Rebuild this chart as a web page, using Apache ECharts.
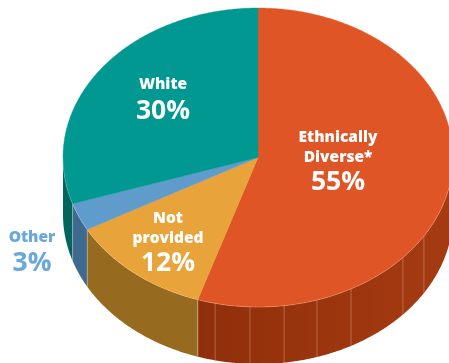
<!DOCTYPE html>
<html>
<head>
<meta charset="utf-8">
<style>html,body{margin:0;padding:0;background:#fff}#chart{width:449px;height:363px}</style>
<script src="https://cdn.jsdelivr.net/npm/echarts@6/dist/echarts.min.js"></script>
</head>
<body>
<div id="chart"></div>
<script>
// Workforce shares, clockwise from twelve o'clock
const categories = ['Ethnically Diverse*', 'Not provided', 'Other', 'White'];
const shares = [55, 12, 3, 30];
const labelLines = [['Ethnically', 'Diverse*'], ['Not', 'provided'], ['Other'], ['White']];

const topColors = ['#e05526', '#e8a33b', '#5f9bcb', '#009890'];
const wallColors = [
  { type: 'linear', x: 0, y: 0, x2: 1, y2: 0, colorStops: [{ offset: 0, color: '#8f2f0a' }, { offset: 1, color: '#a63b12' }] },
  '#966a1f', '#3f6a8f', '#00645f'
];
const labelColors = ['#ffffff', '#ffffff', '#6aa8dc', '#ffffff'];
const labelCentres = [[338, 138], [168, 219], [32, 238], [163, 85]];
const lineGaps = [20, 20, 0, 0];
const valueGaps = [24, 24.5, 25, 26];

// Projected disc geometry
const CX = 258, CY = 157.5, RX = 195, RY = 149.5, DEPTH = 57;
// Panel seams moulded into the front of the rim (degrees clockwise from the top)
const seams = [121.7, 132, 151.5, 162.4, 172.3, 182.35, 192.7];

const FONT = '"Open Sans", "Lato", sans-serif';
const total = shares.reduce((a, b) => a + b, 0);
let running = 0;
const starts = shares.map(v => { const s = running; running += v; return s; });

function rimPoint(deg, drop) {
  const t = deg * Math.PI / 180;
  return [CX + RX * Math.sin(t), CY - RY * Math.cos(t) + drop];
}
function arc(a, b, drop) {
  const pts = [], n = Math.max(2, Math.ceil(Math.abs(b - a) / 0.5));
  for (let i = 0; i <= n; i++) pts.push(rimPoint(a + (b - a) * i / n, drop));
  return pts;
}

function renderSlice(params, api) {
  const i = api.value(0);
  const a = api.value(2) / total * 360;
  const b = a + api.value(1) / total * 360;
  const children = [];

  // Visible wall: the part of the slice on the near half of the disc
  const wa = Math.max(a, 90), wb = Math.min(b, 270);
  if (wb > wa) {
    children.push({
      type: 'polygon',
      shape: { points: arc(wa, wb, 0).concat(arc(wb, wa, DEPTH)) },
      style: { fill: wallColors[i] }
    });
    seams.concat([wa, wb]).filter(d => d >= wa && d <= wb && d > 90 && d < 270).forEach(d => {
      const p = rimPoint(d, 0);
      children.push({
        type: 'line',
        shape: { x1: p[0], y1: p[1], x2: p[0], y2: p[1] + DEPTH },
        style: { stroke: 'rgba(255,225,205,0.38)', lineWidth: 0.8 }
      });
    });
  }

  // Top face
  children.push({
    type: 'polygon',
    shape: { points: [[CX, CY]].concat(arc(a, b, 0)) },
    style: { fill: topColors[i], stroke: topColors[i], lineWidth: 0.4 }
  });
  if (wb > wa) {
    children.push({
      type: 'polyline',
      shape: { points: arc(wa, wb, 0) },
      style: { stroke: 'rgba(255,235,220,0.28)', lineWidth: 0.8, fill: null }
    });
  }

  // Category name and percentage
  const [lx, ly] = labelCentres[i];
  const lines = labelLines[i];
  lines.forEach((line, k) => {
    children.push({
      type: 'text',
      style: {
        x: lx, y: ly + k * lineGaps[i], text: line, fill: labelColors[i],
        font: '800 15.5px ' + FONT, align: 'center', verticalAlign: 'middle'
      }
    });
  });
  children.push({
    type: 'text',
    style: {
      x: lx, y: ly + (lines.length - 1) * lineGaps[i] + valueGaps[i], text: api.value(1) + '%',
      fill: labelColors[i], font: '700 26.5px ' + FONT, align: 'center', verticalAlign: 'middle'
    }
  });
  return { type: 'group', children };
}

const chart = echarts.init(document.getElementById('chart'), null, { renderer: 'canvas' });
chart.setOption({
  animation: false,
  backgroundColor: '#ffffff',
  series: [{
    type: 'custom',
    coordinateSystem: 'none',
    silent: true,
    clip: false,
    renderItem: renderSlice,
    data: shares.map((v, i) => ({ name: categories[i], value: [i, v, starts[i]] }))
  }]
});
</script>
</body>
</html>
